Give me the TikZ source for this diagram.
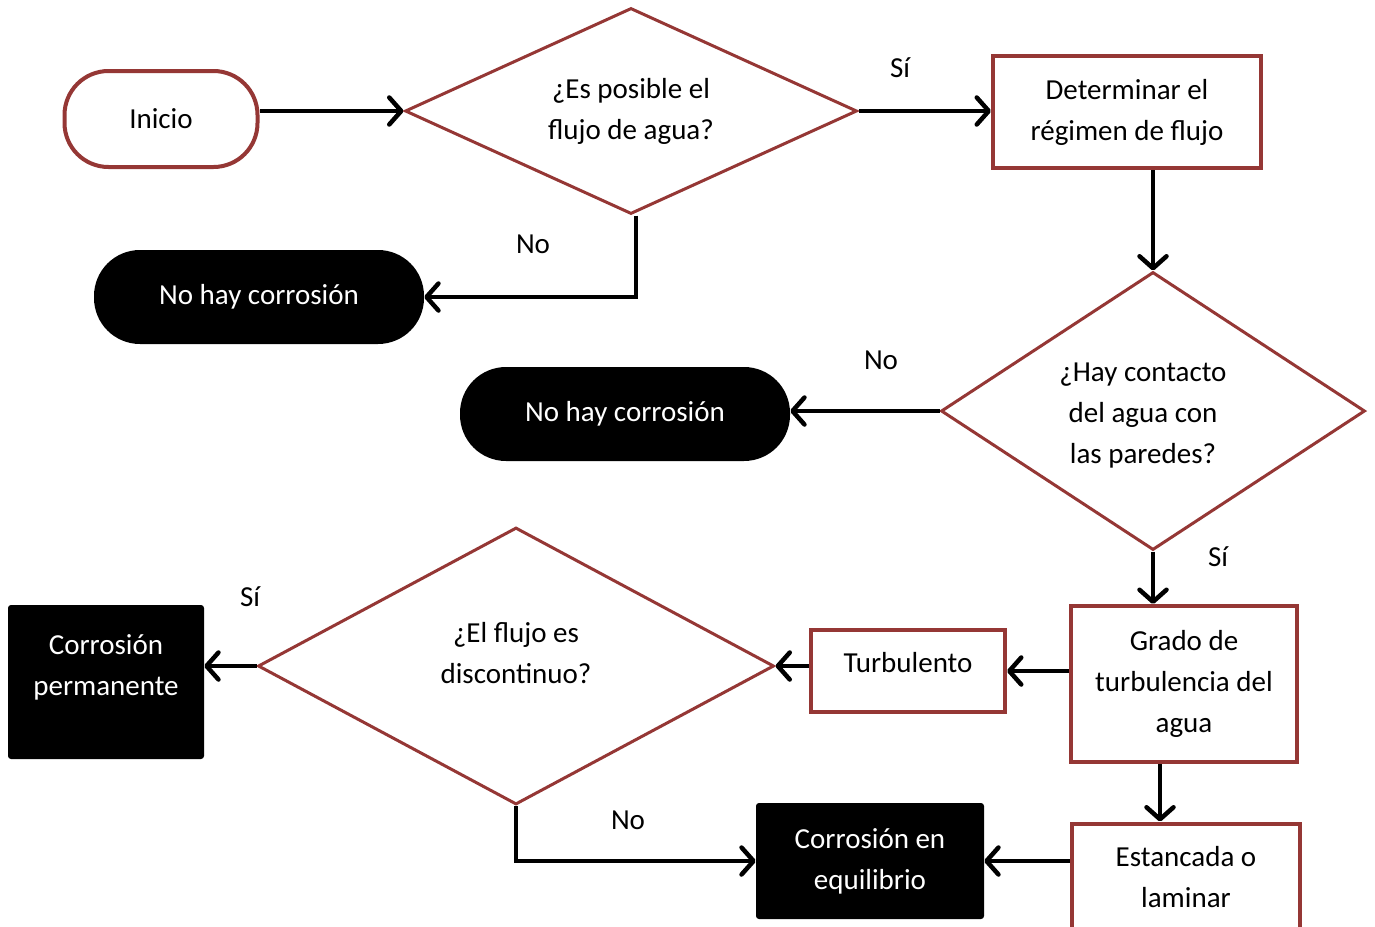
\documentclass[tikz,border=0pt]{standalone}
\usepackage{fontspec}
\setmainfont{Carlito}
\usetikzlibrary{shapes.geometric,arrows.meta,positioning}
\definecolor{brick}{RGB}{149,55,53}
\tikzset{
    every node/.style={font=\fontsize{29}{41}\selectfont, align=center},
    decision/.style={diamond, draw=brick, line width=3, fill=white, inner sep=0pt},
    stepbox/.style={rectangle, draw=brick, line width=4, fill=white, inner sep=0pt},
    startbox/.style={rectangle, rounded corners=44, draw=brick, line width=4, fill=white},
    endpill/.style={rectangle, rounded corners=46, fill=black, text=white},
    endbox/.style={rectangle, rounded corners=3, fill=black, text=white},
    conn/.style={line width=4.5, -{Straight Barb[round,length=12pt,width=27pt]}},
}

\begin{document}
\begin{tikzpicture}[x=1pt,y=1pt,yscale=-1,xscale=1]
    \useasboundingbox (0,0) rectangle (1375,926);

    % Text Node
    \node [startbox, minimum width=193, minimum height=96] (inicio) at (161,119) {Inicio};
    % Text Node
    \node [decision, aspect=2.19, minimum width=452, minimum height=206] (flujo) at (631,111) {¿Es posible el\\flujo de agua?};
    % Text Node
    \node [stepbox, minimum width=268, minimum height=112] (regimen) at (1127,112) {Determinar el\\régimen de flujo};
    % Text Node
    \node [endpill, minimum width=330, minimum height=94] (nohay1) at (259,297) {No hay corrosión};
    % Text Node
    \node [decision, aspect=1.52, minimum width=424, minimum height=278,
        label={[xshift=-10, yshift=-5]center:¿Hay contacto\\del agua con\\las paredes?}] (contacto) at (1153,411) {};
    % Text Node
    \node [endpill, minimum width=330, minimum height=94] (nohay2) at (625,414) {No hay corrosión};
    % Text Node
    \node [stepbox, minimum width=226, minimum height=156] (grado) at (1184,684) {Grado de\\turbulencia del\\agua};
    % Text Node
    \node [stepbox, minimum width=194, minimum height=82,
        label={[yshift=8]center:Turbulento}] (turb) at (908,671) {};
    % Text Node
    \node [decision, aspect=1.86, minimum width=516, minimum height=277,
        label={[yshift=13]center:¿El flujo es\\discontinuo?}] (discont) at (516,666) {};
    % Text Node
    \node [endbox, minimum width=196, minimum height=154,
        label={[yshift=15, text=white]center:Corrosión\\permanente}] (perm) at (106,682) {};
    % Text Node
    \node [endbox, minimum width=228, minimum height=116] (equil) at (870,861) {Corrosión en\\equilibrio};
    % Text Node
    \node [stepbox, minimum width=228, minimum height=121,
        label={[yshift=7]center:Estancada o\\laminar}] (estanc) at (1186,884) {};

    % Labels
    \node (si1) at (900,68) {Sí};
    \node (no1) at (533,244) {No};
    \node (no2) at (881,360) {No};
    \node (si2) at (1218,557) {Sí};
    \node (si3) at (250,597) {Sí};
    \node (no3) at (628,820) {No};

    % Connection
    \draw [conn] (inicio.east |- flujo.west) -- (flujo.west);
    % Connection
    \draw [conn] (flujo.east) -- (regimen.west |- flujo.east);
    % Connection
    \draw [conn] ([xshift=5pt]flujo.south) |- (nohay1.east);
    % Connection
    \draw [conn] (contacto.north |- regimen.south) -- (contacto.north);
    % Connection
    \draw [conn] (contacto.west) -- (nohay2.east |- contacto.west);
    % Connection
    \draw [conn] (contacto.south) -- (contacto.south |- grado.north);
    % Connection
    \draw [conn] (grado.west |- turb.east) -- (turb.east);
    % Connection
    \draw [conn] (turb.west |- discont.east) -- (discont.east);
    % Connection
    \draw [conn] (discont.west) -- (perm.east |- discont.west);
    % Connection
    \draw [conn] (discont.south) |- (equil.west);
    % Connection
    \draw [conn] ([xshift=-24pt]grado.south) -- ([xshift=-24pt]grado.south |- estanc.north);
    % Connection
    \draw [conn] (estanc.west |- equil.east) -- (equil.east);

\end{tikzpicture}
\end{document}
